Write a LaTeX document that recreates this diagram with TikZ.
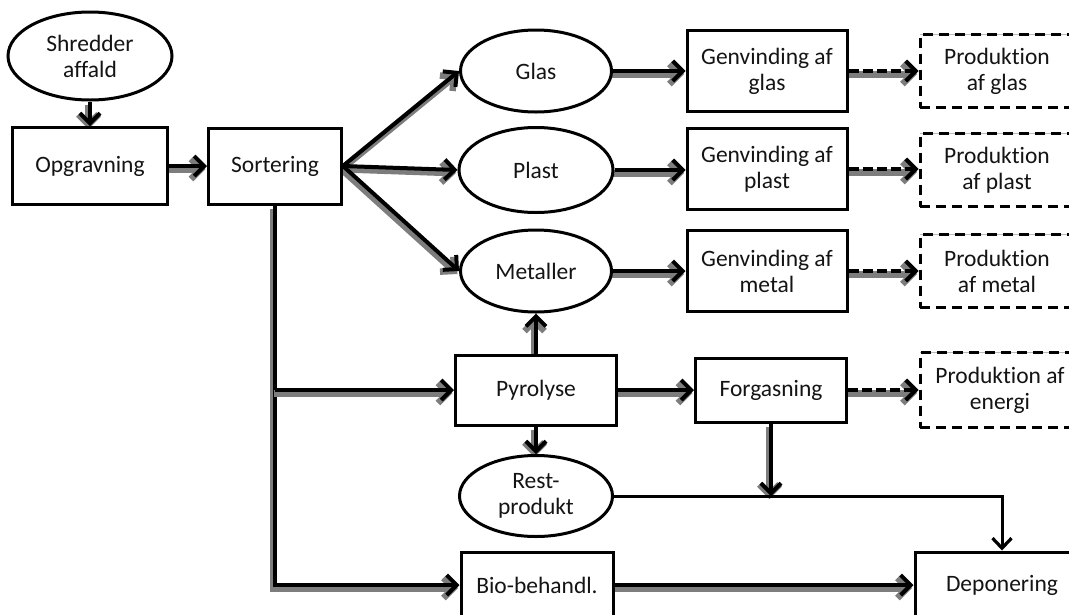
\documentclass[tikz,border=0pt]{standalone}
\usepackage{fontspec}
\setmainfont{Carlito}[Ligatures=NoCommon]
\usetikzlibrary{shapes.geometric,arrows.meta}
\pgfdeclarelayer{bg}
\pgfsetlayers{bg,main}
\definecolor{shadowgray}{RGB}{125,125,125}
\definecolor{inkgray}{RGB}{20,20,20}

% a flow connector: grey drop shadow first, black line on top
\newcommand\flow[2][]{%
  \begin{pgfonlayer}{bg}
    \draw[shadowline] #2;
    \draw[flowline,#1] #2;
  \end{pgfonlayer}}

\begin{document}
\begin{tikzpicture}[x=1pt,y=-1pt,
  font=\fontsize{23.5}{26}\selectfont,
  base/.style={draw=black, line width=3pt, fill=white, align=center,
    inner sep=0pt, text=inkgray},
  box/.style={base, rectangle},
  oval/.style={base, ellipse},
  dbox/.style={base, rectangle, dash pattern=on 10pt off 6pt,
    preaction={draw=gray!55, line width=0.8pt, solid}},
  flowline/.style={draw=black, line width=4pt, line join=miter,
    -{Straight Barb[length=10pt,width=20pt,line width=4pt]}},
  shadowline/.style={draw=shadowgray, line width=7pt,
    -{Straight Barb[length=10pt,width=20pt,line width=6.5pt]},
    transform canvas={shift={(-1.5pt,-3pt)}}},
  dashflow/.style={dash pattern=on 10pt off 4pt},
  thinline/.style={draw=black, line width=3pt,
    -{Straight Barb[length=10pt,width=19pt,line width=3.2pt]}}
]
\useasboundingbox (0,0) rectangle (1069,614);

% input and first steps
\node[oval, minimum width=164pt, minimum height=88pt] (shred) at (90,56) {Shredder\\affald};
\node[box, minimum width=155pt, minimum height=77pt] (opg) at (90,166) {Opgravning};
\node[box, minimum width=133pt, minimum height=76pt] (sort) at (275,166) {Sortering};

% sorted fractions
\node[oval, minimum width=151pt, minimum height=82pt] (glas) at (536,71) {Glas};
\node[oval, minimum width=154pt, minimum height=85pt] (plast) at (536,170) {Plast};
\node[oval, minimum width=151pt, minimum height=82pt] (met) at (536,271) {Metaller};

% recovery
\node[box, minimum width=160pt, minimum height=81pt] (gg) at (767,71) {Genvinding af\\glas};
\node[box, minimum width=160pt, minimum height=81pt] (gp) at (767,169) {Genvinding af\\plast};
\node[box, minimum width=160pt, minimum height=81pt] (gm) at (767,271) {Genvinding af\\metal};

% production
\node[dbox, minimum width=154pt, minimum height=73pt] (pg) at (997,71) {Produktion\\af glas};
\node[dbox, minimum width=154pt, minimum height=73pt] (pp) at (997,170) {Produktion\\af plast};
\node[dbox, minimum width=154pt, minimum height=73pt] (pm) at (997,271) {Produktion\\af metal};

% thermal treatment
\node[box, minimum width=161pt, minimum height=70pt] (pyro) at (536,390) {Pyrolyse};
\node[box, minimum width=151pt, minimum height=64pt] (forg) at (771,390) {Forgasning};
\node[dbox, minimum width=160pt, minimum height=75pt] (pe) at (1000,390) {Produktion af\\energi};
\node[oval, minimum width=153pt, minimum height=81pt] (rest) at (536,496) {Rest-\\produkt};

% biological treatment and landfill
\node[box, minimum width=152pt, minimum height=66pt] (bio) at (537,585) {Bio-behandl.};
\node[box, minimum width=174pt, minimum height=66pt] (dep) at (1002,585) {Deponering};

% connectors
\flow{(shred) -- (opg)}
\flow{(opg) -- (sort)}
\flow{(sort.east) -- (glas.west)}
\flow{(sort.east) -- (plast.west)}
\flow{(sort.east) -- (met.west)}
\flow{(glas) -- (gg)}
\flow{(plast.east) -- (gp.west |- plast.east)}
\flow{(met) -- (gm)}
\flow[dashflow]{(gg) -- (pg)}
\flow[dashflow]{(gp.east) -- (pp.west |- gp.east)}
\flow[dashflow]{(gm) -- (pm)}
\flow{(sort.south) |- (bio.west)}
\flow{(sort.south |- pyro.west) -- (pyro.west)}
\flow{(pyro) -- (met)}
\flow{(pyro.south) -- (pyro.south |- rest.north)}
\flow{(pyro) -- (forg)}
\flow[dashflow]{(forg) -- (pe)}
\flow{(forg.south) -- (forg.south |- rest.east)}
\flow{(bio) -- (dep)}
\draw[thinline] (rest.east) -| (dep.north);
\end{tikzpicture}
\end{document}
